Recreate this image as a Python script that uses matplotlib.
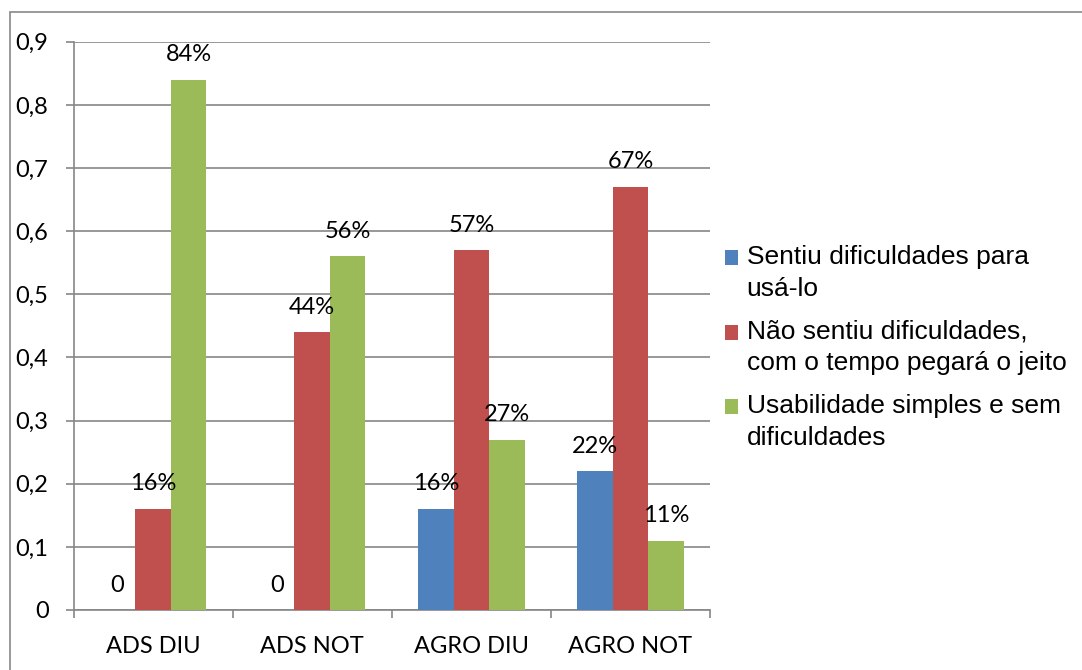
import matplotlib
matplotlib.use("Agg")
import matplotlib.pyplot as plt
from matplotlib.patches import Rectangle, Patch
from matplotlib.legend_handler import HandlerPatch
import numpy as np

categories = ["ADS DIU", "ADS NOT", "AGRO DIU", "AGRO NOT"]
series_names = ["Sentiu dificuldades para\nusá-lo",
                "Não sentiu dificuldades,\ncom o tempo pegará o jeito",
                "Usabilidade simples e sem\ndificuldades"]
sentiu = [0.0, 0.0, 0.16, 0.22]
nao_sentiu = [0.16, 0.44, 0.57, 0.67]
usabilidade = [0.84, 0.56, 0.27, 0.11]
labels_sentiu = ["0", "0", "16%", "22%"]
labels_nao = ["16%", "44%", "57%", "67%"]
labels_usab = ["84%", "56%", "27%", "11%"]
yticks = [0, 0.1, 0.2, 0.3, 0.4, 0.5, 0.6, 0.7, 0.8, 0.9]
ytick_labels = ["0", "0,1", "0,2", "0,3", "0,4", "0,5", "0,6", "0,7", "0,8", "0,9"]

colors = ["#4F81BD", "#C0504D", "#9BBB59"]
grid_color = "#868686"
FS = 17

W, H = 1082, 670
fig = plt.figure(figsize=(W / 100, H / 100), dpi=100)
fig.patch.set_facecolor("white")

# outer chart border
fig.add_artist(Rectangle((10 / W, -0.01), 1.1, (H - 12) / H + 0.01, transform=fig.transFigure,
                         fill=False, edgecolor="#878787", linewidth=1.2))

ax_l, ax_r, ax_t, ax_b = 73.5, 710, 41.7, 610
ax = fig.add_axes([ax_l / W, 1 - ax_b / H, (ax_r - ax_l) / W, (ax_b - ax_t) / H])

x = np.arange(len(categories))
bw = 0.223
series = [sentiu, nao_sentiu, usabilidade]
labels = [labels_sentiu, labels_nao, labels_usab]
for i, (vals, labs) in enumerate(zip(series, labels)):
    pos = x + (i - 1) * bw
    ax.bar(pos, vals, width=bw, color=colors[i], edgecolor="none", zorder=3,
           label=series_names[i])
    for p, v, t in zip(pos, vals, labs):
        ax.annotate(t, (p, v), xytext=(0, 25), textcoords="offset pixels",
                    ha="center", va="center", fontsize=FS, family="Lato", zorder=4)

ax.set_xlim(-0.5, len(categories) - 0.5)
ax.set_ylim(0, 0.9)
ax.set_yticks(yticks)
ax.set_yticklabels(ytick_labels, fontsize=FS, family="Lato")
ax.set_xticks(x)
ax.set_xticklabels(categories, fontsize=FS, family="Lato")
ax.set_xticks(np.arange(-0.5, len(categories)), minor=True)
ax.tick_params(axis="x", which="major", length=0, pad=19)
ax.tick_params(axis="x", which="minor", length=6, width=1.2, color=grid_color, direction="out")
ax.tick_params(axis="y", length=6, width=1.2, color=grid_color, pad=12)
ax.yaxis.grid(True, color=grid_color, linewidth=1.2, zorder=0)
ax.set_axisbelow(True)
for s in ["top", "right"]:
    ax.spines[s].set_visible(False)
for s in ["left", "bottom"]:
    ax.spines[s].set_color(grid_color)
    ax.spines[s].set_linewidth(1.2)


class TopSquare(HandlerPatch):
    def create_artists(self, legend, orig_handle, xdescent, ydescent, width, height,
                       fontsize, trans):
        p = Rectangle((-xdescent, -ydescent + 11), width, height,
                      facecolor=orig_handle.get_facecolor(), edgecolor="none")
        p.set_transform(trans)
        return [p]


handles = [Patch(facecolor=c, edgecolor="none") for c in colors]
leg = fig.legend(handles, series_names, loc="upper left",
                 bbox_to_anchor=(725 / W, 1 - 245 / H),
                 prop={"family": "Liberation Sans", "size": 19},
                 frameon=False, handlelength=0.5, handleheight=0.5,
                 handletextpad=0.32, labelspacing=0.72, borderaxespad=0, borderpad=0,
                 handler_map={Patch: TopSquare()})
for t in leg.get_texts():
    t.set_linespacing(1.4)

fig.savefig("out.png", dpi=100, facecolor="white")
